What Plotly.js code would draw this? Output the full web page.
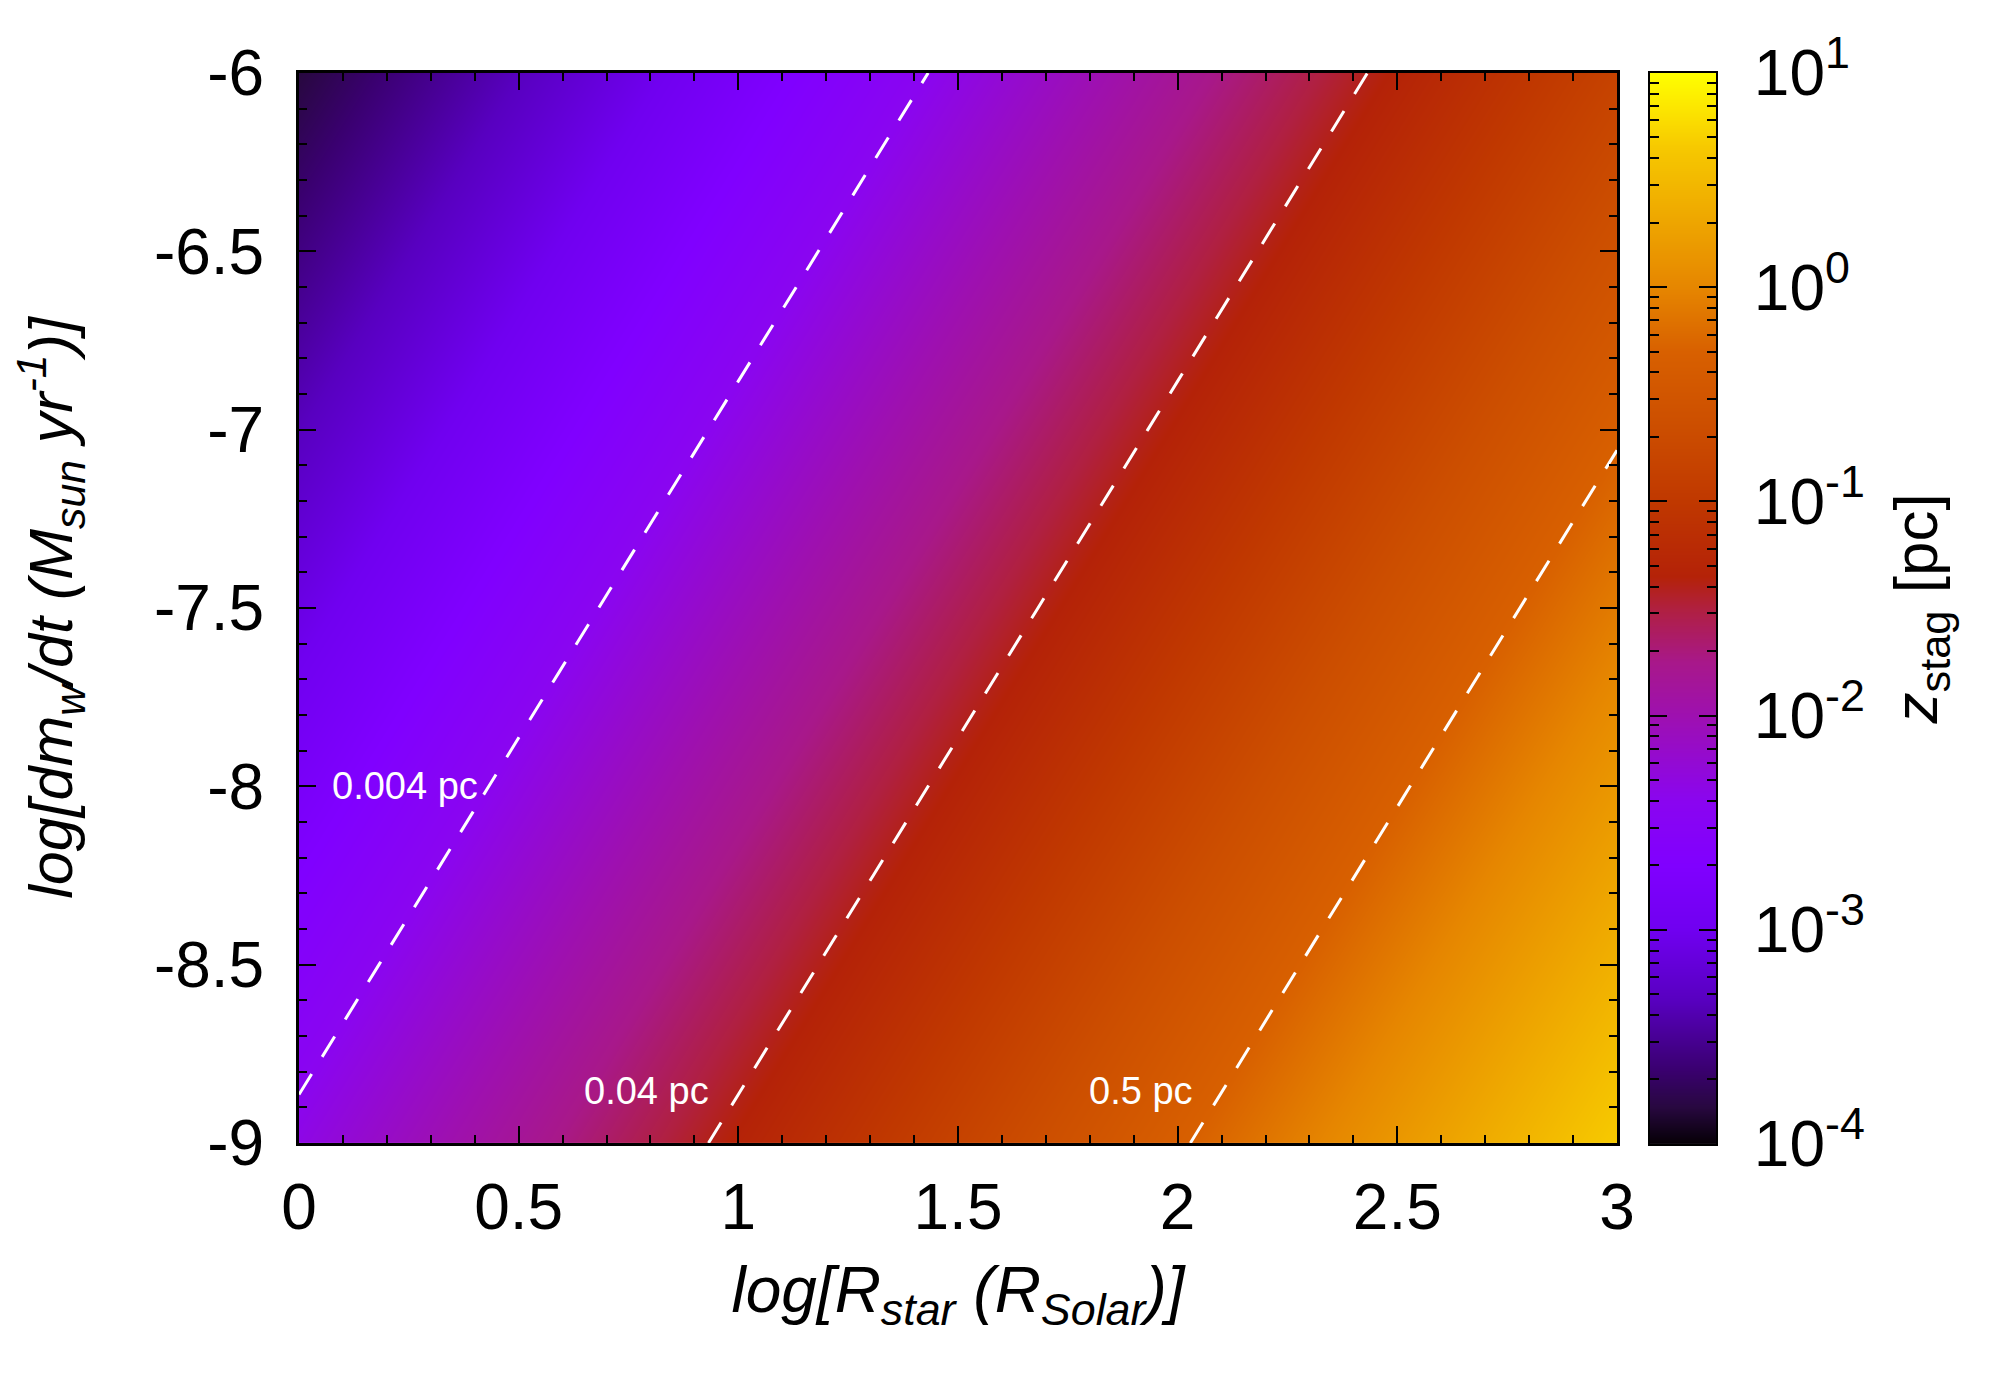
<!DOCTYPE html>
<html><head><meta charset="utf-8">
<script src="https://cdn.plot.ly/plotly-3.0.1.min.js"></script>
<style>html,body{margin:0;padding:0;background:#fff}</style>
</head><body><div id="chart" style="width:2000px;height:1400px"></div>
<script>
// ---- data ----
const logRstar = [0, 0.5, 1, 1.5, 2, 2.5, 3];               // log[R_star (R_Solar)]
const logMdot  = [-9, -8.5, -8, -7.5, -7, -6.5, -6];         // log[dm_w/dt (M_sun/yr)]
// log10 of z_stag [pc], rows follow logMdot, columns follow logRstar
const logZstag = [
  [-2.33, -1.83, -1.33, -0.83, -0.33,  0.17,  0.67],
  [-2.58, -2.08, -1.58, -1.08, -0.58, -0.08,  0.42],
  [-2.83, -2.33, -1.83, -1.33, -0.83, -0.33,  0.17],
  [-3.08, -2.58, -2.08, -1.58, -1.08, -0.58, -0.08],
  [-3.33, -2.83, -2.33, -1.83, -1.33, -0.83, -0.33],
  [-3.58, -3.08, -2.58, -2.08, -1.58, -1.08, -0.58],
  [-3.83, -3.33, -2.83, -2.33, -1.83, -1.33, -0.83]
];
const contourLevelsPc = [0.004, 0.04, 0.5];
const contourLabels   = ['0.004 pc', '0.04 pc', '0.5 pc'];
const xTickVals = [0, 0.5, 1, 1.5, 2, 2.5, 3];
const xTickText = ['0', '0.5', '1', '1.5', '2', '2.5', '3'];
const yTickVals = [-9, -8.5, -8, -7.5, -7, -6.5, -6];
const yTickText = ['-9', '-8.5', '-8', '-7.5', '-7', '-6.5', '-6'];
const cbDecades = [-4, -3, -2, -1, 0, 1];
const cbTickText = ['10<sup>-4</sup>', '10<sup>-3</sup>', '10<sup>-2</sup>', '10<sup>-1</sup>', '10<sup>0</sup>', '10<sup>1</sup>'];
const cbRange = [-4, 1];

// ---- styling ----
const FONT = 'Liberation Sans, Arial, Helvetica, sans-serif';
const colorscale = [
  [0.00, '#050005'], [0.035, '#280840'], [0.07, '#3a0070'], [0.135, '#5800c0'],
  [0.20, '#7000f0'], [0.26, '#8000ff'], [0.32, '#8a05f0'], [0.40, '#9e10b0'],
  [0.45, '#a8188a'], [0.50, '#b02040'], [0.53, '#b42208'], [0.60, '#c03800'],
  [0.67, '#cc4e00'], [0.74, '#d86000'], [0.80, '#e68600'], [0.87, '#efaa00'],
  [0.93, '#f6c800'], [0.96, '#fbe000'], [1.00, '#ffff00']
];

const traces = [];
traces.push({
  type: 'heatmap', x: logRstar, y: logMdot, z: logZstag,
  zsmooth: 'best', zmin: cbRange[0], zmax: cbRange[1],
  colorscale: colorscale, showscale: false, hoverinfo: 'skip',
  xaxis: 'x', yaxis: 'y'
});
contourLevelsPc.forEach(function (lv) {
  const L = Math.log10(lv);
  traces.push({
    type: 'contour', x: logRstar, y: logMdot, z: logZstag,
    autocontour: false,
    contours: {start: L, end: L, size: 1, coloring: 'none', showlabels: false},
    line: {color: '#ffffff', width: 3, dash: '24px,20px', smoothing: 0},
    showscale: false, hoverinfo: 'skip', xaxis: 'x', yaxis: 'y'
  });
});
// colour bar drawn as its own small heatmap on a second axis pair
traces.push({
  type: 'heatmap', x: [0, 1], y: cbRange,
  z: [[cbRange[0], cbRange[0]], [cbRange[1], cbRange[1]]],
  zsmooth: 'best', zmin: cbRange[0], zmax: cbRange[1],
  colorscale: colorscale, showscale: false, hoverinfo: 'skip',
  xaxis: 'x2', yaxis: 'y2'
});

const cbMinor = [];
cbDecades.slice(0, -1).forEach(function (d) {
  for (let k = 2; k <= 9; k++) cbMinor.push(d + Math.log10(k));
});

const tickCommon = {
  ticks: 'inside', ticklen: 17, tickwidth: 2, tickcolor: '#000',
  showline: true, linewidth: 3, linecolor: '#000', mirror: 'allticks',
  showgrid: false, zeroline: false, automargin: false,
  tickfont: {family: FONT, size: 64, color: '#000'}
};

const layout = {
  width: 2000, height: 1400,
  paper_bgcolor: '#ffffff', plot_bgcolor: '#ffffff',
  margin: {l: 0, r: 0, t: 0, b: 0},
  font: {family: FONT, color: '#000'},
  showlegend: false,
  xaxis: Object.assign({}, tickCommon, {
    domain: [0.1495, 0.8085], range: [0, 3], anchor: 'y',
    tickmode: 'array', tickvals: xTickVals, ticktext: xTickText,
    ticklabelstandoff: 6,
    minor: {ticks: 'inside', ticklen: 8, tickwidth: 2, tickcolor: '#000', tick0: 0, dtick: 0.1, showgrid: false},
    title: {text: '<i>log[R<sub>star</sub> (R<sub>Solar</sub>)]</i>', font: {family: FONT, size: 64, color: '#000'}, standoff: 26}
  }),
  yaxis: Object.assign({}, tickCommon, {
    domain: [0.1836, 0.9479], range: [-9, -6], anchor: 'x',
    tickmode: 'array', tickvals: yTickVals, ticktext: yTickText,
    ticklabelstandoff: 19,
    minor: {ticks: 'inside', ticklen: 8, tickwidth: 2, tickcolor: '#000', tick0: -9, dtick: 0.1, showgrid: false},
    title: {text: '<i>log[dm<sub>w</sub>/dt (M<sub>sun</sub> yr<sup>-1</sup>)]</i>', font: {family: FONT, size: 61, color: '#000'}, standoff: 62}
  }),
  xaxis2: {
    domain: [0.825, 0.858], range: [0, 1], anchor: 'y2',
    showticklabels: false, ticks: '', showline: true, linewidth: 2, linecolor: '#000',
    mirror: true, showgrid: false, zeroline: false, automargin: false
  },
  yaxis2: Object.assign({}, tickCommon, {
    domain: [0.1829, 0.9479], range: cbRange, anchor: 'x2', side: 'right',
    linewidth: 2,
    tickmode: 'array', tickvals: cbDecades, ticktext: cbTickText,
    ticklabelstandoff: 23,
    tickfont: {family: FONT, size: 64, color: '#000'},
    minor: {tickmode: 'array', tickvals: cbMinor, ticks: 'inside', ticklen: 9, tickwidth: 2, tickcolor: '#000', showgrid: false},
    title: {text: '<i>z</i><sub>stag</sub> [pc]', font: {family: FONT, size: 62, color: '#000'}, standoff: 30}
  }),
  annotations: [
    {x: 0.07, y: -8.0, xref: 'x', yref: 'y', xanchor: 'left', yanchor: 'middle', text: contourLabels[0], showarrow: false, font: {family: FONT, size: 38, color: '#ffffff'}},
    {x: 0.937, y: -8.854, xref: 'x', yref: 'y', xanchor: 'right', yanchor: 'middle', text: contourLabels[1], showarrow: false, font: {family: FONT, size: 38, color: '#ffffff'}},
    {x: 2.04, y: -8.854, xref: 'x', yref: 'y', xanchor: 'right', yanchor: 'middle', text: contourLabels[2], showarrow: false, font: {family: FONT, size: 38, color: '#ffffff'}}
  ]
};

Plotly.newPlot('chart', traces, layout, {staticPlot: true, displayModeBar: false});
</script>
</body></html>
